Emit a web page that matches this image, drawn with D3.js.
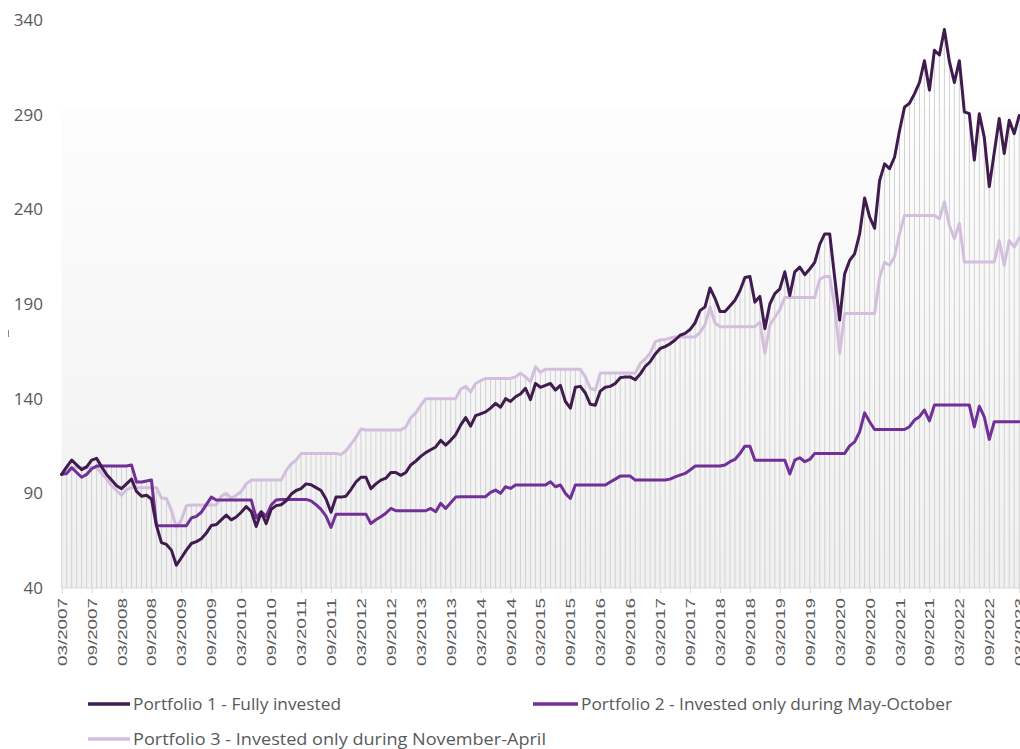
<!DOCTYPE html>
<html>
<head>
<meta charset="utf-8">
<script src="https://cdn.jsdelivr.net/npm/d3@7"></script>
<style>
  html, body { margin: 0; padding: 0; background: #ffffff; overflow: hidden; }
  svg { display: block; font-family: "Open Sans", "Noto Sans", sans-serif; }
</style>
</head>
<body>
<svg id="chart" width="1020" height="749"></svg>
<script>
// ---------- DATA ----------
const startYear = 2007, startMonth = 3, monthCount = 193;

const tickLabels = [
  "03/2007","09/2007","03/2008","09/2008","03/2009","09/2009","03/2010","09/2010",
  "03/2011","09/2011","03/2012","09/2012","03/2013","09/2013","03/2014","09/2014",
  "03/2015","09/2015","03/2016","09/2016","03/2017","09/2017","03/2018","09/2018",
  "03/2019","09/2019","03/2020","09/2020","03/2021","09/2021","03/2022","09/2022","03/2023"
];

const yTicks = [40, 90, 140, 190, 240, 290, 340];

const seriesNames = [
  "Portfolio 1 - Fully invested",
  "Portfolio 2 - Invested only during May-October",
  "Portfolio 3 - Invested only during November-April"
];

const portfolio1 = [
  100,104,107.5,105,102.5,104,107.5,108.5,104,100,97,94,92.5,95,97.5,91,88.5,89,87,73,
  64,63,60,52,56,60,63.5,64.5,66,69,73,73.5,76,78.5,76,77.5,80,83,80.5,72.5,
  80,74,81.5,83.5,84,86,89.5,91.5,92.5,95,94.5,93,91.5,87,80,88,88,88.5,92,96,
  98.5,98.5,92.5,95,97,98,101,101,99.5,101,105,107,109.5,111.5,113,114.5,118,115.5,118,121,
  126,130,125.5,131,132,133,135,137.5,135.5,140,138.5,141,142.5,145.5,139.5,148,146,147,148,144.5,
  147,138.5,135,146,146.5,143,137,136.5,144,146,146.5,148,151,151.5,151.5,150,153,157,159.5,163.5,
  166.5,167.5,169,171,173.5,174.5,176.5,180,186.5,188.5,198.5,193,186,186,189,192,197,204,204.5,191,
  194,177,190,195.5,198,207,194.5,207,209.5,205.5,208.5,212,221.5,227,227,204,181.5,206,213,216.5,
  227,246,236,230,255,264,261.5,267.5,281.5,294,296,301,307,318.5,303,324,321.5,335,318,307,
  318.5,291.5,290.5,266,290.5,278,252,270,288,269.5,287,280,289.5
];

const portfolio2 = [
  100,100.5,103.5,101,98.5,100,103,104.4,104.4,104.4,104.4,104.4,104.4,104.4,105,96,96,96.5,97,73,
  72.9,72.9,72.9,72.9,72.9,72.9,77,77.8,80,84,88,86.5,86.5,86.5,86.5,86.5,86.5,86.5,86.5,77,
  80.3,77.8,83.8,86.5,86.8,86.8,86.8,86.8,86.8,86.8,86,84,81.5,78,72,79,79,79,79,79,
  79,79,74.1,76,77.6,79.5,82,80.8,80.8,80.8,80.8,80.8,80.8,80.8,82,80.3,84.7,82,85,88,
  88.2,88.2,88.2,88.2,88.2,88.2,90.5,91.7,90,93.5,92.6,94.4,94.4,94.4,94.4,94.4,94.4,94.4,96.1,93.5,
  94.4,90,87.3,94.4,94.4,94.4,94.4,94.4,94.4,94.4,96,97.5,99.1,99.1,99.1,97,97,97,97,97,
  97,97,97.5,98.7,99.6,100.5,102.3,104.4,104.4,104.4,104.4,104.4,104.4,105,106.7,107.9,111,114.9,114.9,107.5,
  107.5,107.5,107.5,107.5,107.5,107.5,100.2,107.5,108.8,106.7,107.9,111.1,111.1,111.1,111.1,111.1,111.1,111.1,115.1,117.2,
  122.5,132.5,127.8,123.7,123.7,123.7,123.7,123.7,123.7,123.7,125.2,128.7,130.5,134,128.3,136.6,136.6,136.6,136.6,136.6,
  136.6,136.6,136.6,125.1,136,130.4,118.5,127.8,127.8,127.8,127.8,127.8,127.8
];

const portfolio3 = [
  100,103.5,103.7,103.7,103.7,103.7,103.7,103.7,100.5,97.5,94,91.5,89,92,93,93,93,93,93,93,
  87.5,87.3,81,72,76,83.5,83.8,83.8,83.8,83.8,83.8,83.8,88.5,90,87.5,89,91,95,97,97,
  97,97,97,97,97,102,105.5,107.5,111,111,111,111,111,111,111,111,110.5,112.5,116,119.5,
  124,123.5,123.5,123.5,123.5,123.5,123.5,123.5,123.5,125,130,132.5,136.5,140,140,140,140,140,140,140,
  145,146.5,143.5,148,149.5,150.7,150.7,150.7,150.7,150.7,150.7,151.5,153.5,151.5,149,156.8,154,155.5,155.5,155.5,
  155.5,155.5,155.5,155.5,155.5,151.5,145.5,144.5,153.5,153.5,153.5,153.5,153.5,153.5,153.5,153.5,158.5,161,164,170,
  171,171.3,172,172.6,172.6,172.6,172.6,172.6,175,179,188.5,180,178,178,178,178,178,178,178,178,
  180.5,164,178.8,183,187,193.4,193.4,193.4,193.4,193.4,193.4,193.4,203,204.5,204.5,188.5,164,185,185,185,
  185,185,185,185,204,212,210.5,215,227,236.8,236.8,236.8,236.8,236.8,236.8,236.8,235,244,231.5,224.5,
  232.5,212.2,212.2,212.2,212.2,212.2,212.2,212.2,223.5,210.5,223.5,220,225
];

const colors = ["#3f1b4e", "#712f98", "#d3bfdd"];

// ---------- BUILD ----------
const months = d3.range(monthCount).map(i => {
  const m = (startMonth - 1 + i) % 12 + 1;
  const yr = startYear + Math.floor((startMonth - 1 + i) / 12);
  return (m < 10 ? "0" + m : "" + m) + "/" + yr;
});

const series = [portfolio1, portfolio2, portfolio3];

const svg = d3.select("#chart");
const plotLeft = 61.7, plotBottom = 588, plotTop = 20;
const step = 4.987;

const x = d3.scalePoint().domain(months).range([plotLeft, plotLeft + step * (monthCount - 1)]);
const y = d3.scaleLinear().domain([40, 340]).range([plotBottom, plotTop]);

// background gradient
const defs = svg.append("defs");
const grad = defs.append("linearGradient").attr("id", "bg").attr("x1", 0).attr("y1", 0).attr("x2", 0).attr("y2", 1);
grad.append("stop").attr("offset", "0%").attr("stop-color", "#fdfdfd");
grad.append("stop").attr("offset", "100%").attr("stop-color", "#f0f0f0");

svg.append("rect")
  .attr("x", plotLeft).attr("y", y(293.5))
  .attr("width", 1020 - plotLeft).attr("height", plotBottom - y(293.5))
  .attr("fill", "url(#bg)");

// drop lines
const maxVals = months.map((m, i) => Math.max(portfolio1[i], portfolio2[i], portfolio3[i]));
svg.append("g").selectAll("line").data(months).join("line")
  .attr("x1", d => x(d)).attr("x2", d => x(d))
  .attr("y1", plotBottom).attr("y2", (d, i) => y(maxVals[i]))
  .attr("stroke", "#d2d2d2").attr("stroke-width", 1);

// x axis
const xAxis = d3.axisBottom(x).tickValues(tickLabels.filter(t => months.includes(t))).tickSize(5).tickPadding(0);
const gx = svg.append("g").attr("transform", `translate(0,${plotBottom})`).call(xAxis);
gx.select(".domain").attr("stroke", "#d9d9d9").attr("d", `M${plotLeft},0H1020`);
gx.selectAll(".tick line").attr("stroke", "#d9d9d9");
gx.selectAll(".tick text")
  .attr("fill", "#595959")
  .attr("font-size", "12.5px")
  .attr("text-anchor", "end")
  .attr("transform", "translate(0,10) rotate(-90)")
  .attr("x", 0).attr("y", 0).attr("dy", "0.36em")
  .attr("textLength", 68).attr("lengthAdjust", "spacingAndGlyphs");

// y axis labels
const yAxis = d3.axisLeft(y).tickValues(yTicks).tickSize(0).tickPadding(0);
const gy = svg.append("g").attr("transform", "translate(43,0)").call(yAxis);
gy.select(".domain").remove();
gy.selectAll(".tick text").attr("fill", "#595959").attr("font-size", "17px").attr("font-family", "'Open Sans', sans-serif");

// small mark at left
svg.append("line").attr("x1", 8.5).attr("x2", 8.5).attr("y1", 330).attr("y2", 337).attr("stroke", "#8a8a8a").attr("stroke-width", 1);

// lines
const line = d3.line().x((d, i) => x(months[i])).y(d => y(d)).curve(d3.curveLinear);
[2, 1, 0].forEach(k => {
  svg.append("path").datum(series[k])
    .attr("d", line)
    .attr("fill", "none")
    .attr("stroke", colors[k])
    .attr("stroke-width", 3)
    .attr("stroke-linejoin", "round")
    .attr("stroke-linecap", "round");
});

// legend
const legendItems = [
  { k: 0, sx: 88, tx: 133, ly: 704, len: 208 },
  { k: 1, sx: 533, tx: 581, ly: 704, len: 371 },
  { k: 2, sx: 88, tx: 133, ly: 739, len: 413 }
];
const lg = svg.append("g");
legendItems.forEach(it => {
  lg.append("line")
    .attr("x1", it.sx).attr("x2", it.tx - 3)
    .attr("y1", it.ly).attr("y2", it.ly)
    .attr("stroke", colors[it.k]).attr("stroke-width", 3.5);
  lg.append("text")
    .attr("x", it.tx).attr("y", it.ly).attr("dy", "0.35em")
    .attr("fill", "#595959").attr("font-size", "16px")
    .attr("textLength", it.len).attr("lengthAdjust", "spacingAndGlyphs")
    .text(seriesNames[it.k]);
});
</script>
</body>
</html>
